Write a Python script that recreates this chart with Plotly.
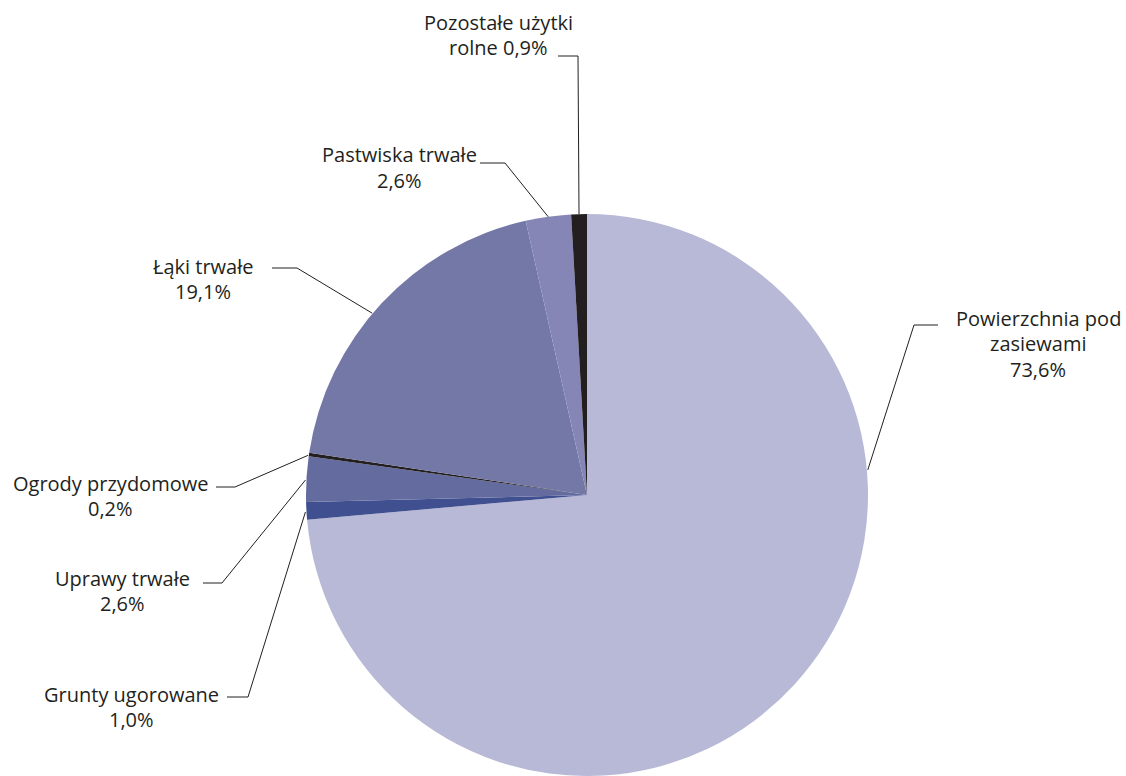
import math
import plotly.graph_objects as go

# ---- data ----
categories = ["Powierzchnia pod zasiewami", "Grunty ugorowane", "Uprawy trwałe",
              "Ogrody przydomowe", "Łąki trwałe", "Pastwiska trwałe", "Pozostałe użytki rolne"]
values = [73.6, 1.0, 2.6, 0.2, 19.1, 2.6, 0.9]
label_lines = [["Powierzchnia pod", "zasiewami", "73,6%"],
               ["Grunty ugorowane", "1,0%"],
               ["Uprawy trwałe", "2,6%"],
               ["Ogrody przydomowe", "0,2%"],
               ["Łąki trwałe", "19,1%"],
               ["Pastwiska trwałe", "2,6%"],
               ["Pozostałe użytki", "rolne 0,9%"]]

# ---- style ----
colors = ["#b8b9d6", "#3f4f8f", "#636b9f", "#231f20", "#7478a6", "#8586b6", "#231f20"]
W, H = 1126, 776
CX, CY, R = 587, 496, 282
TEXT_COLOR = "#231f20"
FONT = "Open Sans"
FS = 20
LINE_GAP = 25.5
# label block centre (px) and first line centre y (px)
label_pos = [(1038, 318), (131, 694), (122, 578), (110, 483), (203, 266), (399, 155), (498, 22)]
# elbow point and end of horizontal segment (px)
elbows = [((914, 325), (938, 325)), ((248, 697), (227, 697)), ((222, 583), (203, 583)),
          ((235, 487), (216, 487)), ((297, 268), (272, 268)), ((505, 163), (480, 163)),
          ((578, 56), (558, 56))]
anchor_override = {0: 84.7, 4: 310.4}

fx = lambda p: p / W
fy = lambda p: 1 - p / H

fig = go.Figure(go.Pie(
    labels=categories, values=values, sort=False, direction="clockwise", rotation=0,
    marker=dict(colors=colors, line=dict(width=0)), textinfo="none", hoverinfo="label+percent",
    domain=dict(x=[fx(CX - R), fx(CX + R)], y=[max(0, fy(CY + R)), fy(CY - R)]),
    showlegend=False,
))

total = sum(values)
cum = 0.0
shapes, annotations = [], []
for i, v in enumerate(values):
    mid = (cum + v / 2) / total * 360.0
    cum += v
    ang = math.radians(anchor_override.get(i, mid))
    ax = CX + R * math.sin(ang)
    ay = CY - R * math.cos(ang)
    (ex, ey), (hx, hy) = elbows[i]
    path = f"M {fx(ax)} {fy(ay)} L {fx(ex)} {fy(ey)} L {fx(hx)} {fy(hy)}"
    shapes.append(dict(type="path", path=path, xref="paper", yref="paper",
                       line=dict(color=TEXT_COLOR, width=1)))
    bx, by = label_pos[i]
    for j, t in enumerate(label_lines[i]):
        annotations.append(dict(text=t, x=fx(bx), y=fy(by + j * LINE_GAP), xref="paper", yref="paper",
                                xanchor="center", yanchor="middle", showarrow=False,
                                font=dict(family=FONT, size=FS, color=TEXT_COLOR)))

fig.update_layout(width=W, height=H, margin=dict(l=0, r=0, t=0, b=0),
                  paper_bgcolor="white", plot_bgcolor="white",
                  shapes=shapes, annotations=annotations)
fig.write_html("out.html", config={"displayModeBar": False},
               post_script="document.body.style.margin='0';document.body.style.overflow='hidden';")
